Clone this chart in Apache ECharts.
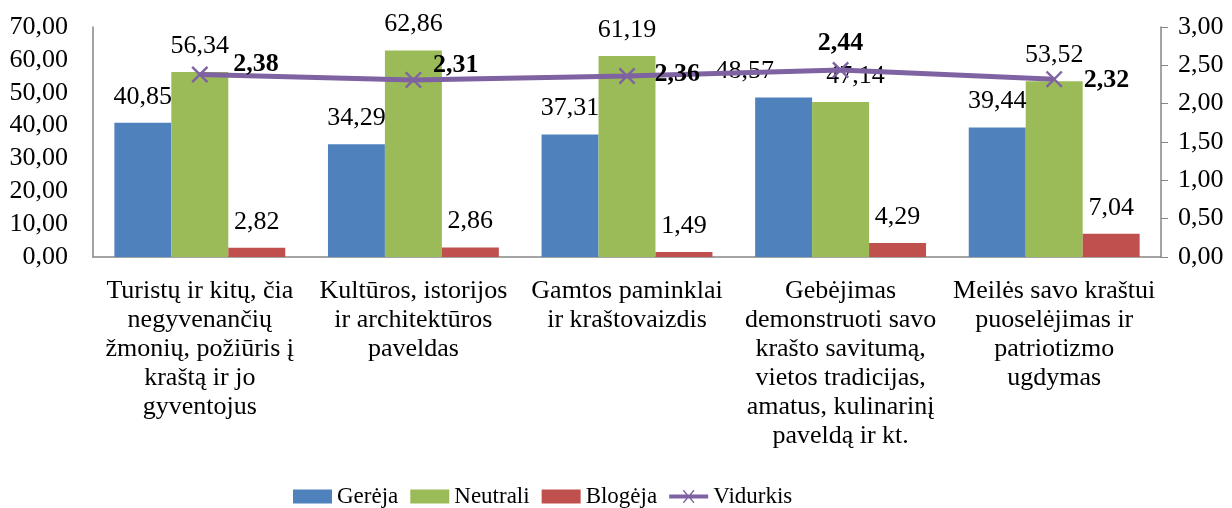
<!DOCTYPE html>
<html>
<head>
<meta charset="utf-8">
<script src="https://cdn.jsdelivr.net/npm/echarts@6/dist/echarts.min.js"></script>
<style>
  html, body { margin: 0; padding: 0; background: #fff; }
  #chart { width: 1232px; height: 508px; }
</style>
</head>
<body>
<div id="chart"></div>
<script>
// duomenys
const categories = [
  'Turistų ir kitų, čia\nnegyvenančių\nžmonių, požiūris į\nkraštą ir jo\ngyventojus',
  'Kultūros, istorijos\nir architektūros\npaveldas',
  'Gamtos paminklai\nir kraštovaizdis',
  'Gebėjimas\ndemonstruoti savo\nkrašto savitumą,\nvietos tradicijas,\namatus, kulinarinį\npaveldą ir kt.',
  'Meilės savo kraštui\npuoselėjimas ir\npatriotizmo\nugdymas'
];
const gereja = [40.85, 34.29, 37.31, 48.57, 39.44];
const neutrali = [56.34, 62.86, 61.19, 47.14, 53.52];
const blogeja = [2.82, 2.86, 1.49, 4.29, 7.04];
const vidurkis = [2.38, 2.31, 2.36, 2.44, 2.32];

const leftTicks = { min: 0, max: 70, interval: 10 };
const rightTicks = { min: 0, max: 3, interval: 0.5 };

const FONT = '"Liberation Serif", "Times New Roman", serif';
const fmt = v => Number(v).toFixed(2).replace('.', ',');

// etikečių poslinkiai (rankiniai, kaip originale)
const blueLabelShift = [0, 0, 0, -39, 0];
const greenLabelShift = [0, 0, 0, 15, 0];
const lineLabelPos = [
  { position: 'right', offset: [20, -10] },
  { position: 'right', offset: [6, -15] },
  { position: 'right', offset: [14, -2] },
  { position: 'top', offset: [0, 0] },
  { position: 'right', offset: [16, 1] }
];

const barLabel = {
  show: true,
  position: 'top',
  distance: 13,
  fontFamily: FONT,
  fontSize: 26,
  color: '#000',
  formatter: p => fmt(p.value)
};

const crossPath = 'path://M0,1 L1,0 L10,9 L9,10 Z M9,0 L10,1 L1,10 L0,9 Z';

const chart = echarts.init(document.getElementById('chart'));
chart.setOption({
  animation: false,
  textStyle: { fontFamily: FONT },
  grid: { left: 93, right: 71, top: 27, bottom: 251 },
  legend: {
    top: 485,
    left: 293,
    padding: 0,
    itemWidth: 39,
    itemHeight: 14,
    itemGap: 12,
    icon: 'rect',
    textStyle: { fontFamily: FONT, fontSize: 23, color: '#000' },
    data: [
      { name: 'Gerėja' },
      { name: 'Neutrali' },
      { name: 'Blogėja' },
      { name: 'Vidurkis', icon: 'path://M0,4 L40,4 L40,8 L0,8 Z M14,0 L15,-1 L26,12 L25,13 Z M25,-1 L26,0 L15,13 L14,12 Z' }
    ]
  },
  xAxis: {
    type: 'category',
    data: categories,
    axisLine: { lineStyle: { color: '#868686', width: 1.5 } },
    axisTick: { show: false },
    axisLabel: {
      interval: 0,
      margin: 20,
      fontFamily: FONT,
      fontSize: 26,
      lineHeight: 29,
      color: '#000',
      align: 'center'
    }
  },
  yAxis: [
    {
      type: 'value',
      min: leftTicks.min, max: leftTicks.max, interval: leftTicks.interval,
      axisLine: { show: true, lineStyle: { color: '#868686', width: 1.5 } },
      axisTick: { show: false },
      splitLine: { show: false },
      axisLabel: { margin: 25, fontFamily: FONT, fontSize: 26, color: '#000', formatter: fmt }
    },
    {
      type: 'value',
      position: 'right',
      min: rightTicks.min, max: rightTicks.max, interval: rightTicks.interval,
      axisLine: { show: true, lineStyle: { color: '#868686', width: 1.5 } },
      axisTick: { show: true, inside: false, length: 7, lineStyle: { color: '#868686' } },
      splitLine: { show: false },
      axisLabel: { margin: 17, fontFamily: FONT, fontSize: 26, color: '#000', formatter: fmt }
    }
  ],
  series: [
    {
      name: 'Gerėja',
      type: 'bar',
      barGap: '0%',
      barCategoryGap: '20%',
      itemStyle: { color: '#4F81BD' },
      data: gereja.map((v, i) => ({ value: v, label: { offset: [blueLabelShift[i], 0] } })),
      label: barLabel
    },
    {
      name: 'Neutrali',
      type: 'bar',
      itemStyle: { color: '#9BBB59' },
      data: neutrali.map((v, i) => ({ value: v, label: { offset: [greenLabelShift[i], 0] } })),
      label: barLabel
    },
    {
      name: 'Blogėja',
      type: 'bar',
      itemStyle: { color: '#C0504D' },
      data: blogeja,
      label: barLabel
    },
    {
      name: 'Vidurkis',
      type: 'line',
      yAxisIndex: 1,
      symbol: crossPath,
      symbolSize: 17,
      z: 5,
      lineStyle: { color: '#7F62A1', width: 5 },
      itemStyle: { color: '#7F62A1' },
      data: vidurkis.map((v, i) => ({ value: v, label: lineLabelPos[i] })),
      label: {
        show: true,
        fontFamily: FONT,
        fontSize: 26,
        fontWeight: 'bold',
        color: '#000',
        formatter: p => fmt(p.value)
      }
    }
  ]
});
</script>
</body>
</html>
